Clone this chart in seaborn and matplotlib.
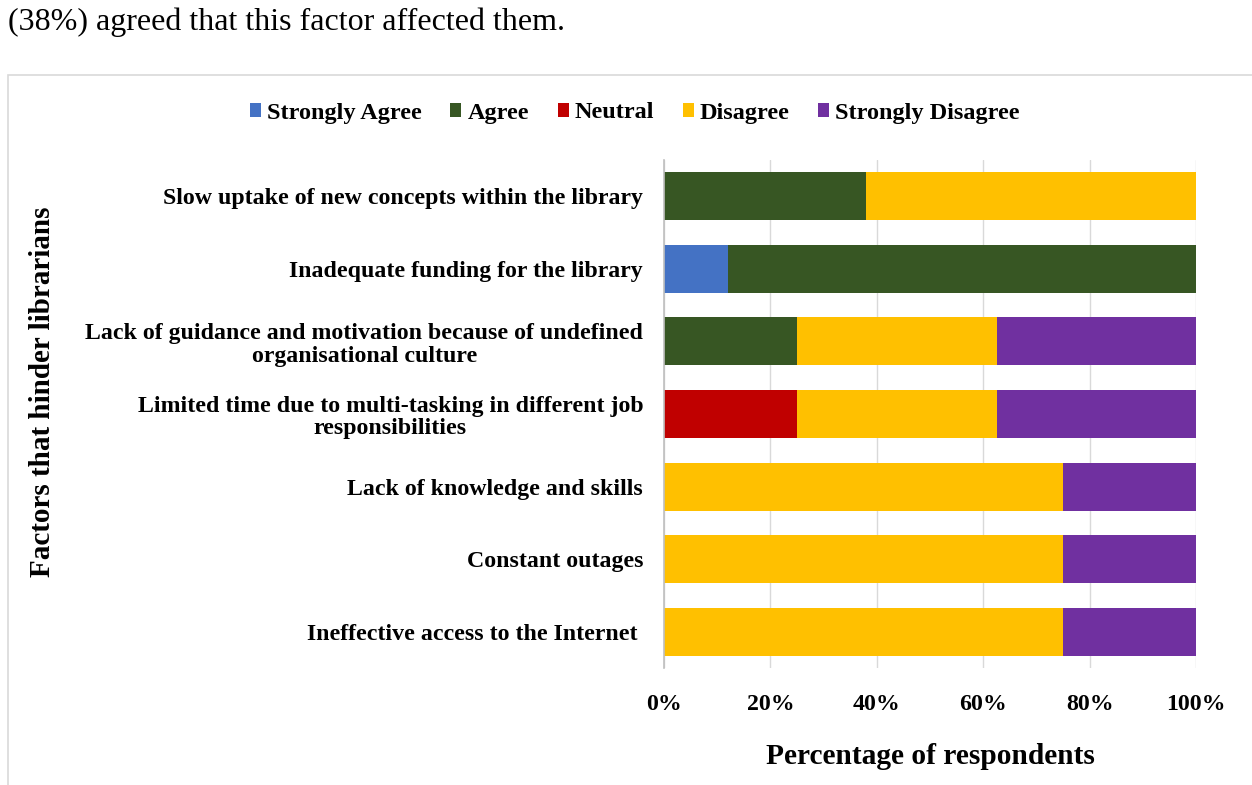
import matplotlib
matplotlib.use("Agg")
import matplotlib.pyplot as plt
import seaborn as sns
import pandas as pd
import numpy as np
from matplotlib.patches import Patch, Rectangle

categories = [
    "Slow uptake of new concepts within the library",
    "Inadequate funding for the library",
    "Lack of guidance and motivation because of undefined\norganisational culture",
    "Limited time due to multi-tasking in different job\nresponsibilities",
    "Lack of knowledge and skills",
    "Constant outages",
    "Ineffective access to the Internet ",
]
series_names = ["Strongly Agree", "Agree", "Neutral", "Disagree", "Strongly Disagree"]
strongly_agree = [0, 12, 0, 0, 0, 0, 0]
agree = [38, 88, 25, 0, 0, 0, 0]
neutral = [0, 0, 0, 25, 0, 0, 0]
disagree = [62, 0, 37.5, 37.5, 75, 75, 75]
strongly_disagree = [0, 0, 37.5, 37.5, 25, 25, 25]
series_colors = ["#4472C4", "#375623", "#C00000", "#FFC000", "#7030A0"]
tick_values = [0, 20, 40, 60, 80, 100]
tick_labels = ["0%", "20%", "40%", "60%", "80%", "100%"]

sns.set_theme(style="white")
plt.rcParams["font.family"] = ["Liberation Serif", "DejaVu Serif"]
plt.rcParams["font.weight"] = "bold"
plt.rcParams["text.color"] = "black"
plt.rcParams["xtick.color"] = "black"
plt.rcParams["ytick.color"] = "black"
plt.rcParams["axes.labelcolor"] = "black"

df = pd.DataFrame({
    "Factor": categories,
    "Strongly Agree": strongly_agree,
    "Agree": agree,
    "Neutral": neutral,
    "Disagree": disagree,
    "Strongly Disagree": strongly_disagree,
})
cum = df[series_names].cumsum(axis=1)

fig = plt.figure(figsize=(12.52, 7.85), dpi=100)
ax = fig.add_axes([664 / 1252, 1 - 668 / 785, (1196 - 664) / 1252, (668 - 160) / 785])

for name, color in reversed(list(zip(series_names, series_colors))):
    sns.barplot(x=cum[name], y=df["Factor"], order=categories, color=color,
                saturation=1, width=0.66, linewidth=0, orient="h", ax=ax)

ax.set_xlim(0, 100)
ax.set_ylim(6.5, -0.5)
ax.set_xticks(tick_values)
ax.set_xticklabels(tick_labels, fontsize=17.2, fontweight="bold", color="black")
ax.xaxis.grid(True, color="#d9d9d9", linewidth=1)
ax.set_axisbelow(True)
ax.tick_params(axis="both", length=0)
ax.tick_params(axis="x", pad=19)
ax.tick_params(axis="y", pad=15)
for lbl in ax.get_yticklabels():
    lbl.set_fontsize(17.2)
    lbl.set_fontweight("bold")
    lbl.set_color("black")
    lbl.set_multialignment("center")
    lbl.set_linespacing(1.1)
for s in ["top", "right", "bottom"]:
    ax.spines[s].set_visible(False)
ax.spines["left"].set_color("#bfbfbf")
ax.spines["left"].set_linewidth(1.2)

ax.set_xlabel("Percentage of respondents", fontsize=21.2, fontweight="bold",
              labelpad=20, color="black")
ax.set_ylabel("")
fig.text(43 / 1252, 1 - 392 / 785, "Factors that hinder librarians", rotation=90,
         ha="center", va="center", fontsize=21, fontweight="bold", color="black")

handles = [Patch(facecolor=c, edgecolor="none", label=n) for n, c in zip(series_names, series_colors)]
leg = fig.legend(handles=handles, loc="center", bbox_to_anchor=(635 / 1252, 1 - 113 / 785), ncol=5,
                 frameon=False, prop={"size": 17.5, "weight": "bold"}, handlelength=0.45,
                 handleheight=0.5, handletextpad=0.25, columnspacing=1.18)
for t in leg.get_texts():
    t.set_color("black")

fig.patches.append(Rectangle((8 / 1252, -0.01), 1.0, 1 - 75 / 785 + 0.01, transform=fig.transFigure,
                             fill=False, edgecolor="#d9d9d9", linewidth=1.2))
fig.text(8 / 1252, 1 - 22 / 785, "(38%) agreed that this factor affected them.",
         ha="left", va="center", fontsize=23, fontweight="normal", color="black")

fig.savefig("out.png", dpi=100)
